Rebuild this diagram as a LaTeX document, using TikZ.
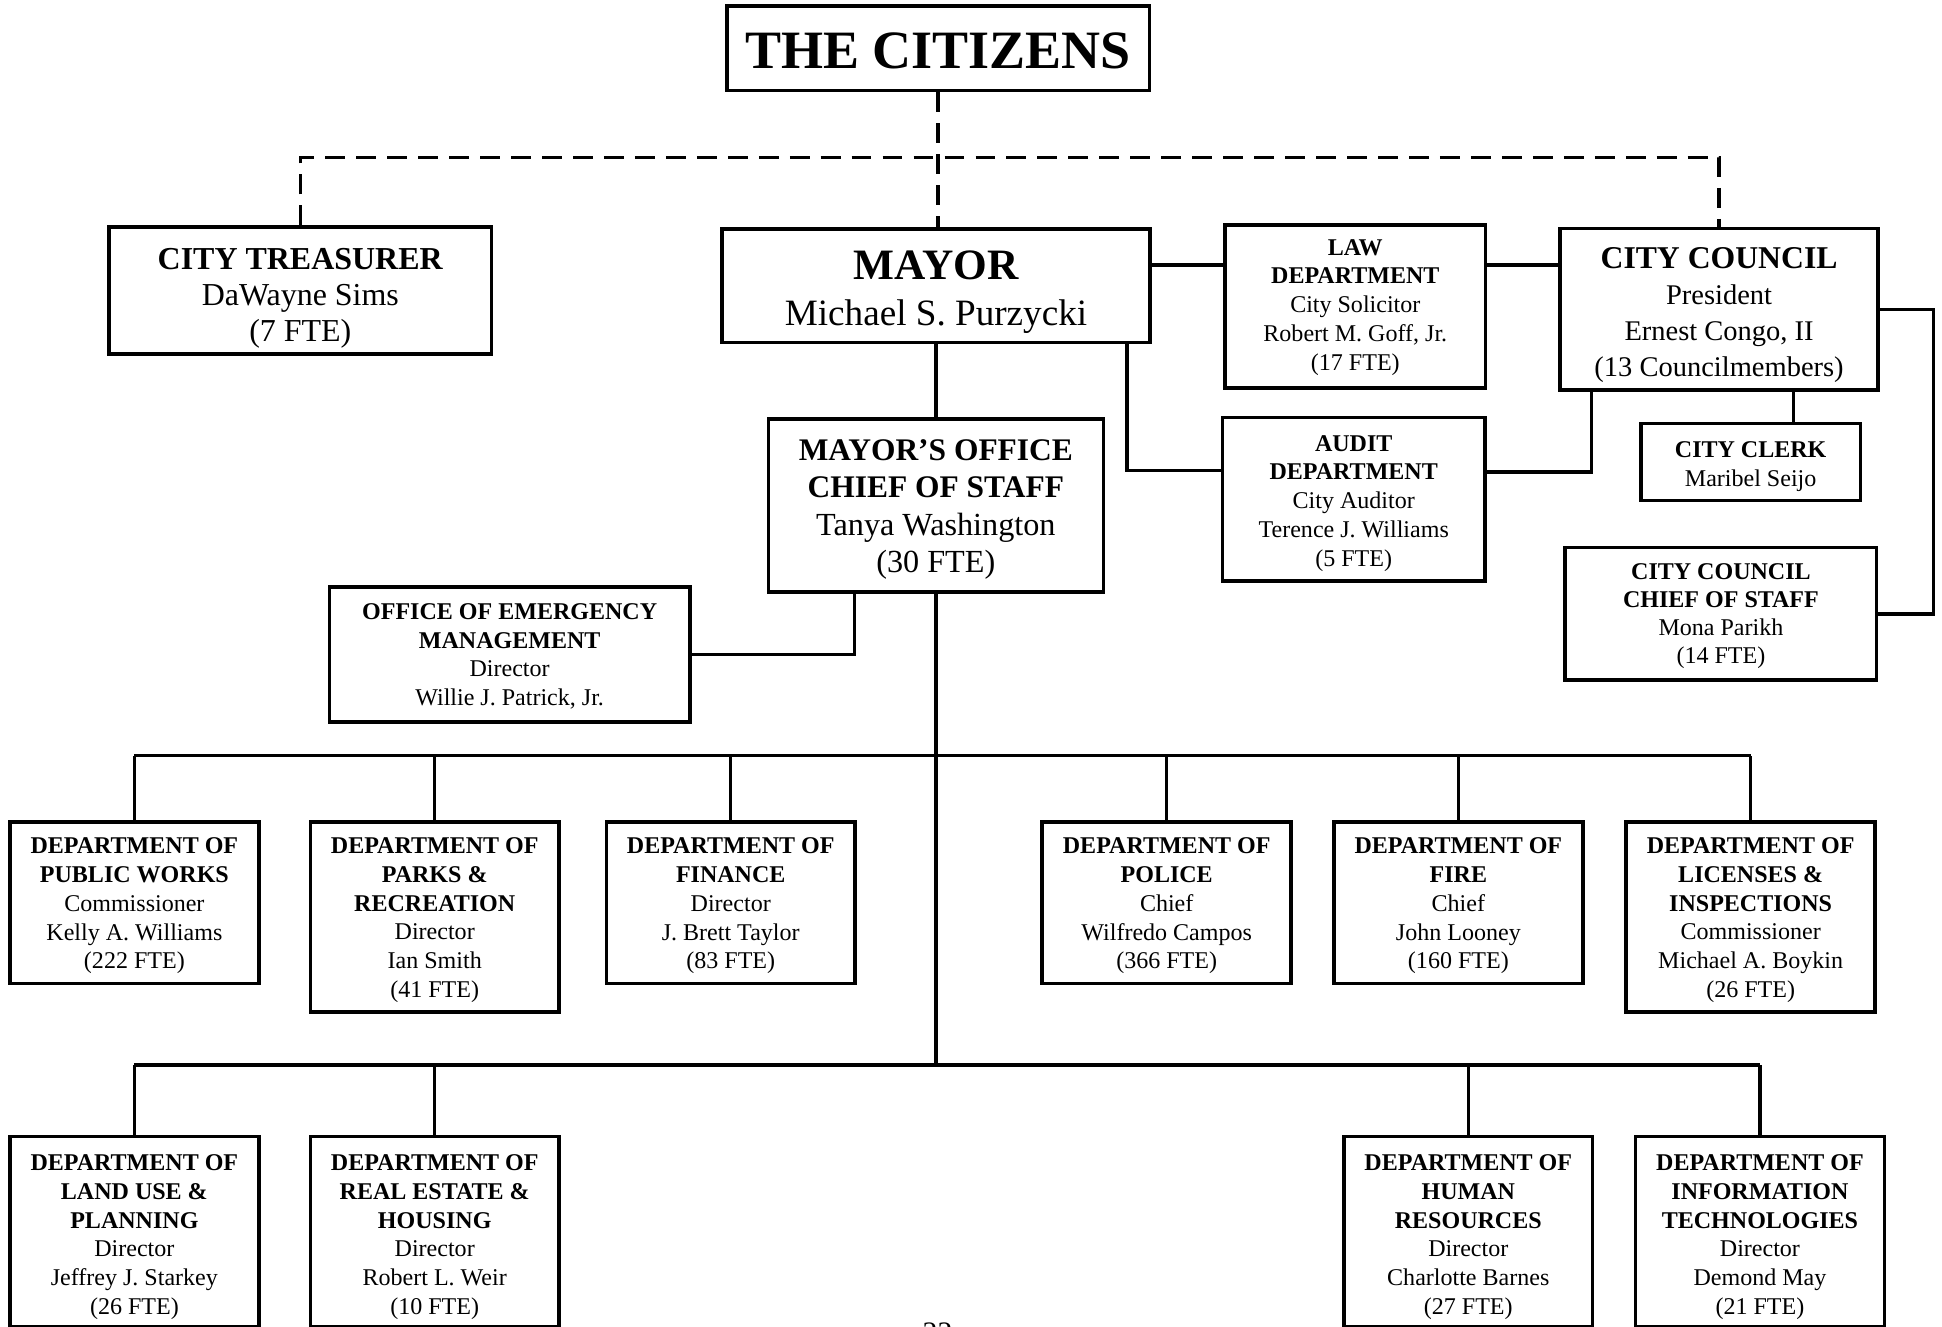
\documentclass[tikz,border=0pt]{standalone}
\usepackage{fontspec}
\setmainfont{Liberation Serif}
% box text: rows of a tabular, lowered by #1 without changing the box size
\newcommand{\bxt}[2]{\raisebox{-#1}[\height][\depth]{\begin{tabular}{@{}c@{}}#2\end{tabular}}}
\begin{document}
\begin{tikzpicture}[x=0.5pt,y=-0.5pt,
  box/.style={draw, line width=1.4pt, inner sep=0pt, rectangle},
  conn/.style={line width=1.4pt},
  dashconn/.style={line width=1.4pt, dash pattern=on 8pt off 4.5pt},
  small/.style={font=\fontsize{9.7}{11.6}\selectfont},
  deptfont/.style={font=\fontsize{9.7}{11.6}\selectfont},
  dept/.style={box, deptfont, minimum width=100.5pt},
  short/.style={minimum height=65.25pt},
  tall/.style={minimum height=76.75pt},
]
\useasboundingbox (0,0) rectangle (1568,1071);

% top level
\node[box, minimum width=170.5pt, minimum height=34.2pt, font=\fontsize{21.8}{25}\selectfont\bfseries]
  (citizens) at (757.5,39) {\bxt{3.1pt}{THE CITIZENS}};
\node[box, font=\fontsize{12.9}{14.6}\selectfont, minimum width=154.5pt, minimum height=51.25pt] (treasurer) at (242.5,234.5)
  {\bxt{3.25pt}{\textbf{CITY TREASURER}\\DaWayne Sims\\(7 FTE)}};
\node[box, minimum width=172.75pt, minimum height=45.75pt, font=\fontsize{15}{18.2}\selectfont] (mayor) at (755.75,230.65)
  {\bxt{3.15pt}{{\fontsize{17.5}{18.2}\selectfont\bfseries MAYOR}\\Michael S. Purzycki}};
\node[box, small, minimum width=105.3pt, minimum height=65.8pt] (law) at (1094.3,247.5)
  {\bxt{0.1pt}{\textbf{LAW}\\\textbf{DEPARTMENT}\\City Solicitor\\Robert M. Goff, Jr.\\(17 FTE)}};
\node[box, font=\fontsize{11.5}{14.5}\selectfont, minimum width=128.4pt, minimum height=65.35pt] (council) at (1388,249.65)
  {\bxt{2.5pt}{{\fontsize{12.8}{14.5}\selectfont\bfseries CITY COUNCIL}\\President\\Ernest Congo, II\\(13 Councilmembers)}};
\node[box, font=\fontsize{13}{15.2}\selectfont, minimum width=135.2pt, minimum height=69.85pt] (mo) at (755.6,408.15)
  {\bxt{1.4pt}{{\fontsize{12.7}{15.2}\selectfont\bfseries MAYOR’S OFFICE}\\{\fontsize{12.7}{15.2}\selectfont\bfseries CHIEF OF STAFF}\\Tanya Washington\\(30 FTE)}};
\node[box, small, minimum width=106pt, minimum height=66pt] (audit) at (1093,403)
  {\bxt{1.5pt}{\textbf{AUDIT}\\\textbf{DEPARTMENT}\\City Auditor\\Terence J. Williams\\(5 FTE)}};
\node[box, small, minimum width=88.5pt, minimum height=31pt] (clerk) at (1413.5,373)
  {\bxt{1.7pt}{\textbf{CITY CLERK}\\Maribel Seijo}};
\node[box, font=\fontsize{9.7}{11.3}\selectfont, minimum width=125.8pt, minimum height=53.4pt] (cccos) at (1389.5,495.6)
  {\bxt{0.95pt}{\textbf{CITY COUNCIL}\\\textbf{CHIEF OF STAFF}\\Mona Parikh\\(14 FTE)}};
\node[box, small, minimum width=145.5pt, minimum height=54.5pt] (oem) at (411.5,528.5)
  {\bxt{0.9pt}{\textbf{OFFICE OF EMERGENCY}\\\textbf{MANAGEMENT}\\Director\\Willie J. Patrick, Jr.}};

% row 1
\node[dept, short] (pw) at (108.5,728.75)
  {\bxt{1.2pt}{\textbf{DEPARTMENT OF}\\\textbf{PUBLIC WORKS}\\Commissioner\\Kelly A. Williams\\(222 FTE)}};
\node[dept, tall] (parks) at (351,740.25)
  {\bxt{1.2pt}{\textbf{DEPARTMENT OF}\\\textbf{PARKS \&}\\\textbf{RECREATION}\\Director\\Ian Smith\\(41 FTE)}};
\node[dept, short] (fin) at (590,728.75)
  {\bxt{1.2pt}{\textbf{DEPARTMENT OF}\\\textbf{FINANCE}\\Director\\J. Brett Taylor\\(83 FTE)}};
\node[dept, short] (police) at (942,728.75)
  {\bxt{1.2pt}{\textbf{DEPARTMENT OF}\\\textbf{POLICE}\\Chief\\Wilfredo Campos\\(366 FTE)}};
\node[dept, short] (fire) at (1177.5,728.75)
  {\bxt{1.2pt}{\textbf{DEPARTMENT OF}\\\textbf{FIRE}\\Chief\\John Looney\\(160 FTE)}};
\node[dept, tall] (li) at (1413.5,740.25)
  {\bxt{1.2pt}{\textbf{DEPARTMENT OF}\\\textbf{LICENSES \&}\\\textbf{INSPECTIONS}\\Commissioner\\Michael A. Boykin\\(26 FTE)}};

% row 2
\node[dept, tall] (land) at (108.5,994.25)
  {\bxt{2.2pt}{\textbf{DEPARTMENT OF}\\\textbf{LAND USE \&}\\\textbf{PLANNING}\\Director\\Jeffrey J. Starkey\\(26 FTE)}};
\node[dept, tall] (re) at (351,994.25)
  {\bxt{2.2pt}{\textbf{DEPARTMENT OF}\\\textbf{REAL ESTATE \&}\\\textbf{HOUSING}\\Director\\Robert L. Weir\\(10 FTE)}};
\node[dept, tall] (hr) at (1185.5,994.25)
  {\bxt{2.2pt}{\textbf{DEPARTMENT OF}\\\textbf{HUMAN}\\\textbf{RESOURCES}\\Director\\Charlotte Barnes\\(27 FTE)}};
\node[dept, tall] (it) at (1421,994.25)
  {\bxt{2.2pt}{\textbf{DEPARTMENT OF}\\\textbf{INFORMATION}\\\textbf{TECHNOLOGIES}\\Director\\Demond May\\(21 FTE)}};

% page number (cut off at the bottom, as in the source)
\node[anchor=north, inner sep=0pt, font=\fontsize{12}{14}\selectfont] (pagenum) at (757,1067.5) {22};

% helper coordinates
\coordinate (dash) at (757,127);
\coordinate (ml) at (0,214);
\coordinate (ma) at (910,380);
\coordinate (ca) at (1285,381);
\coordinate (cc) at (1448,0);
\coordinate (cr) at (1561,250);
\coordinate (mo1) at (690,0);
\coordinate (bus1) at (755,610);
\coordinate (bus2) at (755,860);

% dashed links
\draw[dashconn] (citizens.south) -- (citizens.south |- mayor.north);
\draw[dashconn] (treasurer.north) |- (dash) -| (council.north);

% solid links
\draw[conn] (mayor.east |- ml) -- (law.west |- ml);
\draw[conn] (law.east |- ml) -- (council.west |- ml);
\draw[conn] (mayor.south) -- (mayor.south |- mo.north);
\draw[conn] (mayor.south -| ma) -- (ma) -- (audit.west |- ma);
\draw[conn] (council.south -| ca) -- (ca) -- (audit.east |- ca);
\draw[conn] (council.south -| cc) -- (clerk.north -| cc);
\draw[conn] (council.east |- cr) -- (cr) |- (cccos.east);
\draw[conn] (mo.south -| mo1) |- (oem.east);
\draw[conn] (mo.south) -- (mo.south |- bus2);

% bus 1
\draw[conn] (pw.north |- bus1) -- (li.north |- bus1);
\foreach \n in {pw,parks,fin,police,fire,li}
  \draw[conn] (\n.north) -- (\n.north |- bus1);
% bus 2
\draw[conn] (land.north |- bus2) -- (it.north |- bus2);
\foreach \n in {land,re,hr,it}
  \draw[conn] (\n.north) -- (\n.north |- bus2);
\end{tikzpicture}
\end{document}
